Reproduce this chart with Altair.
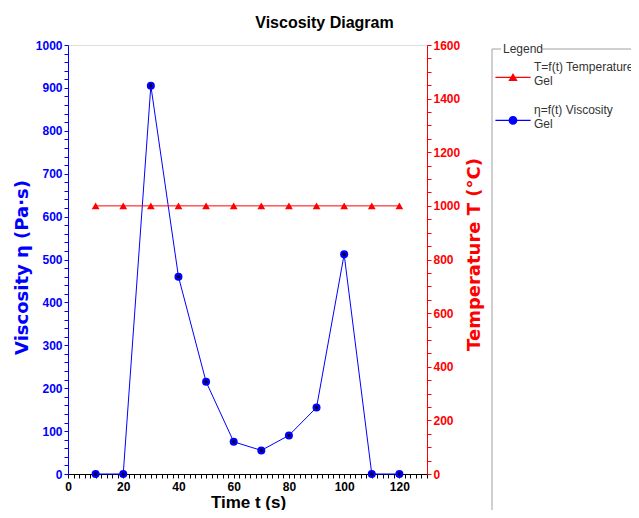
import altair as alt
import pandas as pd

# ---- data ----
time_s = [10, 20, 30, 40, 50, 60, 70, 80, 90, 100, 110, 120]
viscosity = [0, 0, 905, 460, 215, 75, 55, 90, 155, 512, 0, 0]
temperature = [1000, 1000, 1000, 1000, 1000, 1000, 1000, 1000, 1000, 1000, 1000, 1000]

series_names = ["T=f(t) Temperature|Gel", "\u03b7=f(t) Viscosity|Gel"]
series_colors = ["#ff0000", "#0000ff"]

x_ticks = list(range(0, 131, 2))
y_left_ticks = list(range(0, 1001, 20))
y_right_ticks = list(range(0, 1601, 50))

df = pd.DataFrame({"t": time_s, "visc": viscosity, "temp": temperature,
                   "series": [series_names[1]] * len(time_s)})

BLUE = "#0000ff"
RED = "#ff0000"
LBL_FONT = "Liberation Sans"

x_enc = alt.X("t:Q", scale=alt.Scale(domain=[0, 130], nice=False, zero=False),
              axis=alt.Axis(values=x_ticks, tickCount=len(x_ticks), format="d",
                            labelExpr="datum.value % 20 == 0 ? datum.label : ''",
                            labelOverlap=False, labelFlush=False, grid=False,
                            domainColor="black", tickColor="black", labelColor="black",
                            labelFont=LBL_FONT, labelFontWeight="bold", labelFontSize=12,
                            tickSize=4, labelPadding=3,
                            title="Time t (s)", titleFont="Liberation Sans", titleFontSize=17,
                            titleFontWeight="bold", titleColor="black",
                            titleBaseline="alphabetic", titleY=33, titleX=180))

y_left = alt.Y("visc:Q", scale=alt.Scale(domain=[0, 1000], nice=False),
               axis=alt.Axis(values=y_left_ticks, tickCount=len(y_left_ticks), format="d",
                             labelExpr="datum.value % 100 == 0 ? datum.label : ''",
                             labelOverlap=False, labelFlush=False, grid=False,
                             domainColor=BLUE, tickColor=BLUE, labelColor=BLUE,
                             labelFont=LBL_FONT, labelFontWeight="bold", labelFontSize=12,
                             tickSize=4, labelPadding=2,
                             title="Viscosity \u03b7 (Pa\u00b7s)", titleFont="DejaVu Sans",
                             titleFontSize=18, titleFontWeight="bold", titleColor=BLUE,
                             titleBaseline="alphabetic", titleX=-41, titleY=222))

y_right = alt.Y("temp:Q", scale=alt.Scale(domain=[0, 1600], nice=False),
                axis=alt.Axis(orient="right", values=y_right_ticks, tickCount=len(y_right_ticks),
                              format="d",
                              labelExpr="datum.value % 200 == 0 ? datum.label : ''",
                              labelOverlap=False, labelFlush=False, grid=False,
                              domainColor=RED, tickColor=RED, labelColor=RED,
                              labelFont=LBL_FONT, labelFontWeight="bold", labelFontSize=12,
                              tickSize=4, labelPadding=2,
                              title="Temperature T (\u00b0C)", titleFont="DejaVu Sans",
                              titleFontSize=18, titleFontWeight="bold", titleColor=RED,
                              titleAngle=270, titleBaseline="alphabetic", titleX=52, titleY=209))

base = alt.Chart(df)

visc_line = base.mark_line(color=BLUE, strokeWidth=1).encode(x=x_enc, y=y_left)
visc_pts = base.mark_point(filled=True, color=BLUE, size=64, opacity=1, shape="circle").encode(x="t:Q", y="visc:Q")
visc_dots = base.mark_point(filled=True, color="#000022", size=12, opacity=1, shape="circle").encode(x="t:Q", y="visc:Q")

legend = alt.Legend(orient="none", legendX=439, legendY=16, title=None,
                    labelExpr="split(datum.label, '|')", symbolSize=64,
                    labelFont=LBL_FONT, labelFontSize=12, labelColor="#333333",
                    labelOffset=15, rowPadding=17, padding=0, labelLimit=300,
                    direction="vertical", symbolStrokeWidth=0, symbolOpacity=1)

# legend symbols: a short line through the marker
tri_path = "M-4.4,2.45H4.4V2.75H-4.4Z M0,1.5L1.15,3.5H-1.15Z"
circ_path = "M-4.4,2.45H4.4V2.75H-4.4Z M-1.1,2.6A1.1,1.1,0,1,1,1.1,2.6A1.1,1.1,0,1,1,-1.1,2.6Z"

legend_src = base.mark_point(filled=True, opacity=1).encode(
    x="t:Q", y="visc:Q",
    color=alt.Color("series:N", scale=alt.Scale(domain=series_names, range=series_colors), legend=legend),
    shape=alt.Shape("series:N", scale=alt.Scale(domain=series_names, range=[tri_path, circ_path]), legend=legend),
).transform_filter("false")

one = alt.Data(values=[{"a": 1}])
box_col = "#a0a0a0"
box_left = alt.Chart(one).mark_rule(color=box_col, strokeWidth=1).encode(
    x=alt.value(424), y=alt.value(4), y2=alt.value(495))
box_top1 = alt.Chart(one).mark_rule(color=box_col, strokeWidth=1).encode(
    x=alt.value(424), x2=alt.value(433), y=alt.value(4))
box_top2 = alt.Chart(one).mark_rule(color=box_col, strokeWidth=1).encode(
    x=alt.value(474), x2=alt.value(640), y=alt.value(4))
box_title = alt.Chart(one).mark_text(align="left", baseline="middle", font=LBL_FONT,
                                     fontSize=12, color="#333333").encode(
    x=alt.value(435), y=alt.value(4), text=alt.value("Legend"))

left_layer = alt.layer(visc_line, visc_pts, visc_dots, legend_src, box_left, box_top1, box_top2, box_title)

temp_line = base.mark_line(color=RED, strokeWidth=1).encode(x="t:Q", y=y_right)
temp_pts = base.mark_point(filled=True, color=RED, size=60, opacity=1, shape="triangle-up").encode(x="t:Q", y="temp:Q")
right_layer = alt.layer(temp_line, temp_pts)

chart = alt.layer(left_layer, right_layer).resolve_scale(y="independent").properties(
    width=359, height=429,
    padding={"left": 60, "top": 37, "right": 204, "bottom": 36},
    autosize=alt.AutoSizeParams(type="none"),
    title=alt.TitleParams("Viscosity Diagram", font="Liberation Sans", fontSize=16,
                          fontWeight="bold", color="black", anchor="middle", dx=77, offset=8),
).configure_view(stroke=None).configure(background="white")

chart.save("out.html", embed_options={"renderer": "svg", "actions": False})
